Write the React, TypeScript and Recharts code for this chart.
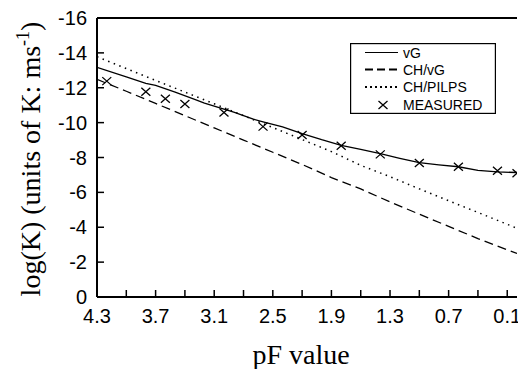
import React from 'react';
import { ComposedChart, Line, Scatter, XAxis, YAxis, ReferenceLine, Legend } from 'recharts';

// pF value (x) and log10 of hydraulic conductivity K in m/s (y)
const vgPF = [4.3, 4.0, 3.8, 3.7, 3.5, 3.3, 3.2, 2.9, 2.7, 2.6, 2.4, 2.2, 2.0, 1.8, 1.6, 1.4, 1.2, 1.0, 0.8, 0.6, 0.4, 0.2, 0.0];
const vgK = [-13.17, -12.63, -12.25, -12.13, -11.75, -11.33, -11.12, -10.6, -10.2, -10.05, -9.75, -9.37, -9.02, -8.7, -8.47, -8.22, -7.95, -7.7, -7.58, -7.47, -7.26, -7.17, -7.14];

const chPF = [4.3, 4.0, 3.7, 3.4, 3.1, 2.8, 2.5, 2.2, 1.9, 1.6, 1.3, 1.0, 0.7, 0.4, 0.1, 0.0];
const chVgK = [-12.48, -11.8, -11.1, -10.4, -9.7, -9.0, -8.3, -7.6, -6.85, -6.2, -5.45, -4.75, -4.05, -3.35, -2.7, -2.5];
const chPilpsK = [-13.78, -13.1, -12.42, -11.75, -11.08, -10.4, -9.72, -9.03, -8.34, -7.55, -6.9, -6.2, -5.52, -4.85, -4.17, -3.94];

const measuredPF = [4.2, 3.8, 3.6, 3.4, 3.0, 2.6, 2.2, 1.8, 1.4, 1.0, 0.6, 0.2, 0.0];
const measuredK = [-12.38, -11.77, -11.37, -11.07, -10.58, -9.77, -9.29, -8.68, -8.18, -7.68, -7.47, -7.24, -7.1];

const xTicks = [4.3, 4.0, 3.7, 3.4, 3.1, 2.8, 2.5, 2.2, 1.9, 1.6, 1.3, 1.0, 0.7, 0.4, 0.1];
const xTickLabels = ['4.3', '3.7', '3.1', '2.5', '1.9', '1.3', '0.7', '0.1'];
const yTicks = [-16, -14, -12, -10, -8, -6, -4, -2, 0];

const toPoints = (xs: number[], ys: number[]) => xs.map((pF, i) => ({ pF, k: ys[i] }));

const vgData = toPoints(vgPF, vgK);
const chVgData = toPoints(chPF, chVgK);
const chPilpsData = toPoints(chPF, chPilpsK);
const measuredData = toPoints(measuredPF, measuredK);

const SANS = "'Liberation Sans', Arial, sans-serif";
const SERIF = "'Liberation Serif', 'Times New Roman', serif";

const W = 518;
const H = 369;

function XTick(props: any) {
  const { x, y, payload } = props;
  const label = Number(payload.value).toFixed(1);
  const show = xTickLabels.includes(label);
  return (
    <g>
      <line x1={x} x2={x} y1={y} y2={y - 7} stroke="#000" strokeWidth={1.5} />
      {show && (
        <text x={x} y={y + 26} textAnchor="middle" fill="#000" style={{ fontFamily: SANS, fontSize: 20 }}>
          {label}
        </text>
      )}
    </g>
  );
}

function YTick(props: any) {
  const { x, y, payload } = props;
  return (
    <g>
      <line x1={x} x2={x + 7} y1={y} y2={y} stroke="#000" strokeWidth={1.5} />
      <text x={x - 10} y={y + 7} textAnchor="end" fill="#000" style={{ fontFamily: SANS, fontSize: 20 }}>
        {String(payload.value)}
      </text>
    </g>
  );
}

function Cross(props: any) {
  const { cx, cy } = props;
  if (cx == null || cy == null) return null;
  const a = 4.5;
  const b = 4;
  return (
    <path
      d={`M${cx - a},${cy - b}L${cx + a},${cy + b}M${cx - a},${cy + b}L${cx + a},${cy - b}`}
      stroke="#000"
      strokeWidth={1.3}
      fill="none"
    />
  );
}

function LegendBox() {
  const rows = [9.5, 26.5, 44, 62];
  const x1 = 15;
  const x2 = 48;
  const tx = 53;
  const textStyle = { fontFamily: SANS, fontSize: 14 };
  return (
    <svg width={146} height={71} style={{ display: 'block' }}>
      <rect x={0.6} y={0.6} width={144.8} height={69.8} fill="#fff" stroke="#000" strokeWidth={1.2} />
      <line x1={x1} x2={x2} y1={rows[0]} y2={rows[0]} stroke="#000" strokeWidth={1.2} />
      <text x={tx} y={rows[0] + 5} fill="#000" style={textStyle}>vG</text>
      <line x1={x1} x2={x2} y1={rows[1]} y2={rows[1]} stroke="#000" strokeWidth={2} strokeDasharray="8 4" />
      <text x={tx} y={rows[1] + 5} fill="#000" style={textStyle}>CH/vG</text>
      <line x1={x1} x2={x2} y1={rows[2]} y2={rows[2]} stroke="#000" strokeWidth={2} strokeDasharray="2 3" />
      <text x={tx} y={rows[2] + 5} fill="#000" style={textStyle}>CH/PILPS</text>
      <Cross cx={33} cy={rows[3]} />
      <text x={tx} y={rows[3] + 5} fill="#000" style={textStyle}>MEASURED</text>
    </svg>
  );
}

export default function App() {
  return (
    <div style={{ position: 'absolute', left: 0, top: 0, width: W, height: H, background: '#fff' }}>
      <ComposedChart width={W} height={H} margin={{ top: 18, right: 1, bottom: 0, left: 0 }}>
        <XAxis
          type="number"
          dataKey="pF"
          domain={[0, 4.3]}
          reversed
          allowDataOverflow
          ticks={xTicks}
          interval={0}
          height={72}
          tickSize={0}
          tickMargin={0}
          tickLine={false}
          tick={<XTick />}
          axisLine={{ stroke: '#000', strokeWidth: 2 }}
        />
        <YAxis
          type="number"
          dataKey="k"
          domain={[-16, 0]}
          reversed
          allowDataOverflow
          ticks={yTicks}
          interval={0}
          width={97}
          tickSize={0}
          tickMargin={0}
          tickLine={false}
          tick={<YTick />}
          axisLine={{ stroke: '#000', strokeWidth: 2 }}
        />
        <ReferenceLine y={-16} stroke="#000" strokeWidth={2} />
        <Line
          data={vgData}
          dataKey="k"
          type="linear"
          stroke="#000"
          strokeWidth={1.3}
          dot={false}
          isAnimationActive={false}
        />
        <Line
          data={chVgData}
          dataKey="k"
          type="linear"
          stroke="#000"
          strokeWidth={1.3}
          strokeDasharray="9 5"
          dot={false}
          isAnimationActive={false}
        />
        <Line
          data={chPilpsData}
          dataKey="k"
          type="linear"
          stroke="#000"
          strokeWidth={1.5}
          strokeDasharray="1.5 4.5"
          dot={false}
          isAnimationActive={false}
        />
        <Scatter data={measuredData} dataKey="k" shape={<Cross />} isAnimationActive={false} />
        <Legend
          layout="horizontal"
          align="center"
          verticalAlign="middle"
          content={<LegendBox />}
          wrapperStyle={{ left: 350, top: 43, width: 146, height: 71 }}
        />
      </ComposedChart>
      <svg
        width={W}
        height={H}
        style={{ position: 'absolute', left: 0, top: 0, pointerEvents: 'none' }}
      >
        <text x={301} y={364} textAnchor="middle" fill="#000" style={{ fontFamily: SERIF, fontSize: 28 }}>
          pF value
        </text>
        <text
          transform="translate(40,159) rotate(-90)"
          textAnchor="middle"
          fill="#000"
          style={{ fontFamily: SERIF, fontSize: 28 }}
        >
          log(K) (units of K: ms
          <tspan dy={-11} style={{ fontSize: 18 }}>-1</tspan>
          <tspan dy={11}>)</tspan>
        </text>
      </svg>
    </div>
  );
}
